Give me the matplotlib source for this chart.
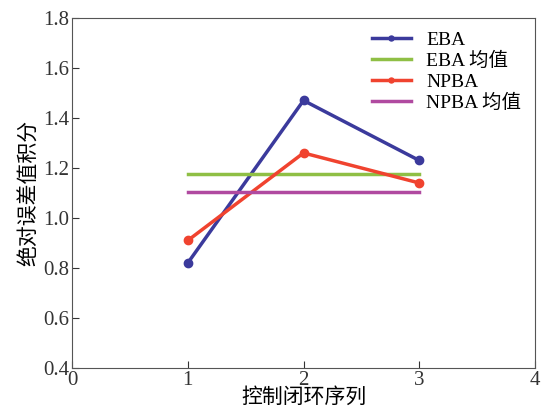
import matplotlib
matplotlib.use("Agg")
import matplotlib.pyplot as plt

plt.rcParams["font.family"] = ["Liberation Serif", "Noto Sans CJK SC"]

x = [1, 2, 3]
eba = [0.82, 1.47, 1.23]
npba = [0.91, 1.26, 1.14]
eba_mean = [1.175, 1.175, 1.175]
npba_mean = [1.105, 1.105, 1.105]

fig = plt.figure(figsize=(5.42, 4.17), dpi=100)
ax = fig.add_axes([0.133, 0.1175, 0.854, 0.8395])

ax.plot(x, eba, color="#3b3a9c", lw=2.5, marker="o", ms=6, label="EBA")
ax.plot(x, eba_mean, color="#8fbf45", lw=2.5, label="EBA 均值")
ax.plot(x, npba, color="#f0432f", lw=2.5, marker="o", ms=6, label="NPBA")
ax.plot(x, npba_mean, color="#b04aa0", lw=2.5, label="NPBA 均值")

ax.set_xlim(0, 4)
ax.set_ylim(0.4, 1.8)
ax.set_xticks([0, 1, 2, 3, 4])
ax.set_yticks([0.4, 0.6, 0.8, 1.0, 1.2, 1.4, 1.6, 1.8])
ax.set_yticklabels(["0.4", "0.6", "0.8", "1.0", "1.2", "1.4", "1.6", "1.8"])
ax.tick_params(direction="in", labelsize=15, length=5, pad=2, colors="#333333")
for s in ax.spines.values():
    s.set_color("#555555")

ax.set_xlabel("控制闭环序列", fontsize=15, labelpad=-1)
ax.set_ylabel("绝对误差值积分", fontsize=15, labelpad=2)

ax.legend(loc="upper right", frameon=False, fontsize=14, handlelength=2.0,
          markerscale=0.6, labelspacing=0.15, borderaxespad=0.3)

fig.savefig("out.png", dpi=100)
